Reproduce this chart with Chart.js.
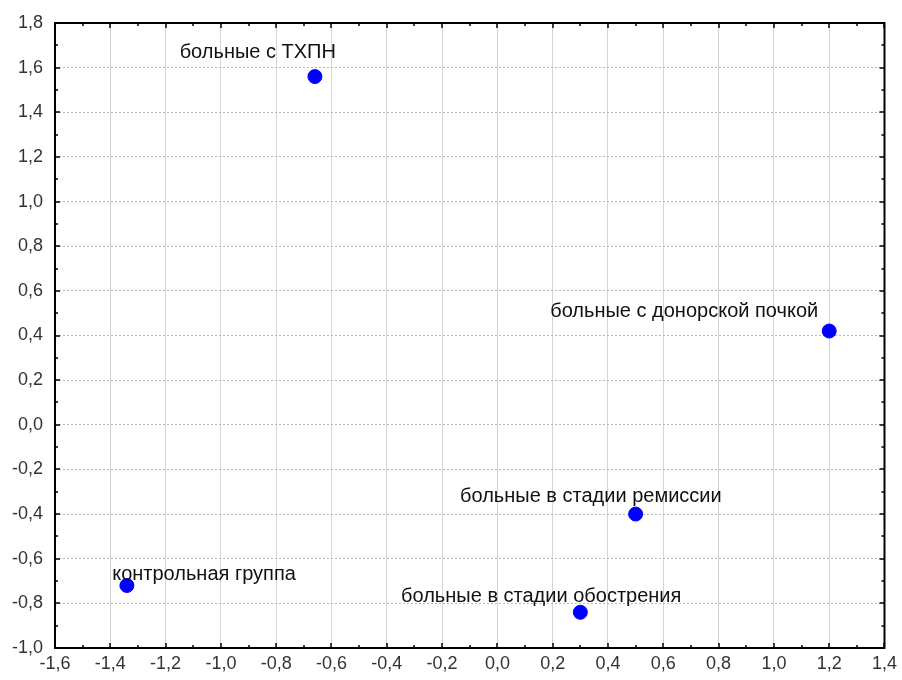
<!DOCTYPE html>
<html>
<head>
<meta charset="utf-8">
<script src="https://cdn.jsdelivr.net/npm/chart.js@4"></script>
<style>
  html, body { margin: 0; padding: 0; background: #fff; }
  #wrap { width: 902px; height: 680px; }
</style>
</head>
<body>
<div id="wrap"><canvas id="chart" width="902" height="680"></canvas></div>
<script>
const groupNames = [
  'больные с ТХПН',
  'больные с донорской почкой',
  'больные в стадии ремиссии',
  'больные в стадии обострения',
  'контрольная группа'
];
const xValues = [-0.66, 1.20, 0.50, 0.30, -1.34];
const yValues = [1.56, 0.42, -0.40, -0.84, -0.72];
const xTicks = [-1.6, -1.4, -1.2, -1.0, -0.8, -0.6, -0.4, -0.2, 0.0, 0.2, 0.4, 0.6, 0.8, 1.0, 1.2, 1.4];
const yTicks = [-1.0, -0.8, -0.6, -0.4, -0.2, 0.0, 0.2, 0.4, 0.6, 0.8, 1.0, 1.2, 1.4, 1.6, 1.8];

// label placement relative to its point: right edge offset and baseline offset (px)
const labelOffsets = [
  { dx: 21, dy: -19 },
  { dx: -11, dy: -14 },
  { dx: 86, dy: -12 },
  { dx: 101, dy: -10 },
  { dx: 169, dy: -6 }
];

const FONT = '"Liberation Sans", Arial, sans-serif';
const fmt = v => Number(v).toFixed(1).replace('.', ',');

const pointLabels = {
  id: 'pointLabels',
  afterDatasetsDraw(chart) {
    const ctx = chart.ctx;
    const meta = chart.getDatasetMeta(0);
    ctx.save();
    ctx.font = '20px ' + FONT;
    ctx.fillStyle = '#111';
    ctx.textAlign = 'right';
    ctx.textBaseline = 'alphabetic';
    meta.data.forEach((pt, i) => {
      const off = labelOffsets[i];
      ctx.fillText(groupNames[i], pt.x + off.dx, pt.y + off.dy);
    });
    ctx.restore();
  }
};

const frame = {
  id: 'frame',
  afterDraw(chart) {
    const { ctx, chartArea: a, scales } = chart;
    ctx.save();
    ctx.strokeStyle = '#000';
    ctx.lineWidth = 2;
    ctx.strokeRect(a.left, a.top, a.right - a.left, a.bottom - a.top);
    ctx.lineWidth = 1.5;
    ctx.beginPath();
    const xs = scales.x, ys = scales.y;
    for (let i = 0; i < xTicks.length; i++) {
      const px = Math.round(xs.getPixelForValue(xTicks[i]));
      ctx.moveTo(px, a.bottom); ctx.lineTo(px, a.bottom - 5);
      ctx.moveTo(px, a.top); ctx.lineTo(px, a.top + 5);
      if (i < xTicks.length - 1) {
        const mx = Math.round(xs.getPixelForValue((xTicks[i] + xTicks[i + 1]) / 2));
        ctx.moveTo(mx, a.bottom); ctx.lineTo(mx, a.bottom - 3);
        ctx.moveTo(mx, a.top); ctx.lineTo(mx, a.top + 3);
      }
    }
    for (let i = 0; i < yTicks.length; i++) {
      const py = Math.round(ys.getPixelForValue(yTicks[i]));
      ctx.moveTo(a.left, py); ctx.lineTo(a.left + 5, py);
      ctx.moveTo(a.right, py); ctx.lineTo(a.right - 5, py);
      if (i < yTicks.length - 1) {
        const my = Math.round(ys.getPixelForValue((yTicks[i] + yTicks[i + 1]) / 2));
        ctx.moveTo(a.left, my); ctx.lineTo(a.left + 3, my);
        ctx.moveTo(a.right, my); ctx.lineTo(a.right - 3, my);
      }
    }
    ctx.stroke();
    ctx.restore();
  }
};

new Chart(document.getElementById('chart'), {
  type: 'scatter',
  data: {
    datasets: [{
      data: xValues.map((x, i) => ({ x, y: yValues[i] })),
      backgroundColor: '#0000ff',
      borderColor: '#0000ff',
      pointRadius: 7,
      pointHoverRadius: 7
    }]
  },
  options: {
    responsive: false,
    animation: false,
    layout: { padding: { top: 23, right: 13, left: 0, bottom: 0 } },
    plugins: { legend: { display: false }, tooltip: { enabled: false } },
    scales: {
      x: {
        type: 'linear',
        min: -1.6,
        max: 1.4,
        afterBuildTicks(scale) { scale.ticks = xTicks.map(v => ({ value: v })); },
        afterFit(scale) { scale.height = 32; },
        border: { display: false },
        grid: { color: '#d4d4d4', lineWidth: 1, drawTicks: false },
        ticks: {
          padding: 5,
          color: '#333',
          font: { family: FONT, size: 18 },
          maxRotation: 0,
          autoSkip: false,
          callback: v => fmt(v)
        }
      },
      y: {
        type: 'linear',
        min: -1.0,
        max: 1.8,
        afterBuildTicks(scale) { scale.ticks = yTicks.map(v => ({ value: v })); },
        afterFit(scale) { scale.width = 55; },
        border: { display: false, dash: [2, 2] },
        grid: { color: '#b8b8b8', lineWidth: 1, drawTicks: false },
        ticks: {
          padding: 12,
          color: '#333',
          font: { family: FONT, size: 18 },
          autoSkip: false,
          callback: v => fmt(v)
        }
      }
    }
  },
  plugins: [pointLabels, frame]
});
</script>
</body>
</html>
